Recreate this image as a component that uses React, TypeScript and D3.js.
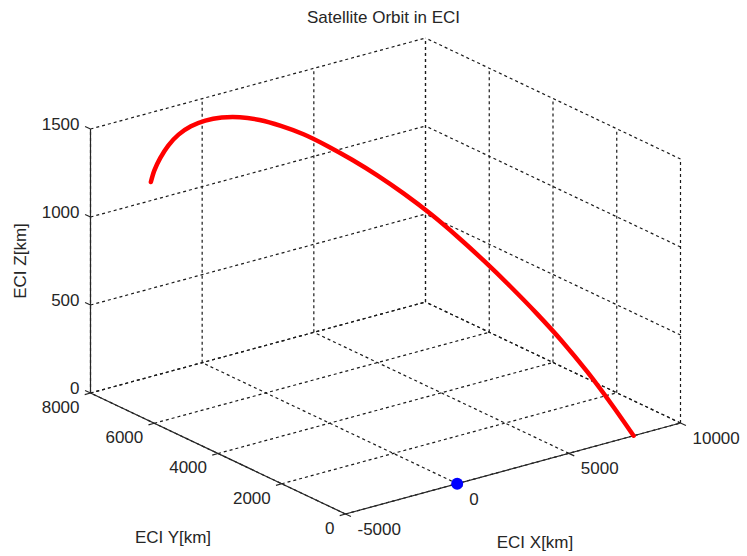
import React from "react";
import * as d3 from "d3";

// ---- data ----
const orbitX = [-3950, -3339, -2702, -2045, -1372, -689, 0, 689, 1372, 2045, 2702, 3339, 3950, 4531, 5078, 5586, 6052, 6471, 6842, 7160, 7424, 7631, 7780, 7870, 7900];
const orbitY = [6842, 7160, 7424, 7631, 7780, 7870, 7900, 7870, 7780, 7631, 7424, 7160, 6842, 6471, 6052, 5586, 5078, 4531, 3950, 3339, 2702, 2045, 1372, 689, 0];
const orbitZ = [1262, 1280, 1305, 1336, 1362, 1378, 1384, 1380, 1366, 1340, 1302, 1255, 1195, 1128, 1055, 975, 888, 792, 690, 585, 478, 368, 250, 125, 0];
const earthPoint = [0, 0, 0];

const xTicks = [-5000, 0, 5000, 10000];
const yTicks = [0, 2000, 4000, 6000, 8000];
const zTicks = [0, 500, 1000, 1500];
const xDomain = [-5000, 10000];
const yDomain = [0, 8000];
const zDomain = [0, 1500];

const title = "Satellite Orbit in ECI";
const xLabel = "ECI X[km]";
const yLabel = "ECI Y[km]";
const zLabel = "ECI Z[km]";

// ---- layout ----
const W = 747;
const H = 556;
const ORIGIN = [90.5, 393]; // pixel of (xmin, ymax, zmin)
const XV = [335, -91];
const YV = [255, 121];
const ZH = 264;
const FONT = "'Liberation Sans', Arial, Helvetica, sans-serif";
const TXT = "#262626";

export default function App() {
  const xs = d3.scaleLinear().domain(xDomain).range([0, 1]);
  const ys = d3.scaleLinear().domain([yDomain[1], yDomain[0]]).range([0, 1]);
  const zs = d3.scaleLinear().domain(zDomain).range([0, ZH]);
  const proj = (x: number, y: number, z: number): [number, number] => [
    ORIGIN[0] + xs(x) * XV[0] + ys(y) * YV[0],
    ORIGIN[1] + xs(x) * XV[1] + ys(y) * YV[1] - zs(z),
  ];
  const [x0, x1] = xDomain;
  const [y0, y1] = yDomain;
  const [z0, z1] = zDomain;

  const grid: [number, number, number, number, number, number][] = [];
  // floor
  xTicks.forEach((x) => grid.push([x, y0, z0, x, y1, z0]));
  yTicks.forEach((y) => grid.push([x0, y, z0, x1, y, z0]));
  // back wall y = ymax
  xTicks.forEach((x) => grid.push([x, y1, z0, x, y1, z1]));
  zTicks.forEach((z) => grid.push([x0, y1, z, x1, y1, z]));
  // back wall x = xmax
  yTicks.forEach((y) => grid.push([x1, y, z0, x1, y, z1]));
  zTicks.forEach((z) => grid.push([x1, y0, z, x1, y1, z]));

  const pts = orbitX.map((x, i) => proj(x, orbitY[i], orbitZ[i]));
  const line = d3.line().curve(d3.curveCatmullRom)(pts as [number, number][]) || "";

  const norm = (v: number[]) => {
    const l = Math.hypot(v[0], v[1]);
    return [v[0] / l, v[1] / l];
  };
  const yDir = norm(YV);
  const xDir = norm(XV);
  const TL = 6;

  const seg = (a: [number, number], b: [number, number]) => ({ x1: a[0], y1: a[1], x2: b[0], y2: b[1] });
  const ep = proj(earthPoint[0], earthPoint[1], earthPoint[2]);

  return (
    <svg width={W} height={H} style={{ position: "absolute", left: 0, top: 0, background: "#fff" }} fontFamily={FONT}>
      <rect width={W} height={H} fill="#fff" />
      <g stroke="#1a1a1a" strokeWidth={1.2} strokeDasharray="3,3" fill="none">
        {grid.map((g, i) => (
          <line key={i} {...seg(proj(g[0], g[1], g[2]), proj(g[3], g[4], g[5]))} />
        ))}
      </g>
      <g stroke={TXT} strokeWidth={1.2}>
        <line {...seg(proj(x0, y1, z0), proj(x0, y1, z1))} />
        <line {...seg(proj(x0, y1, z0), proj(x0, y0, z0))} />
        <line {...seg(proj(x0, y0, z0), proj(x1, y0, z0))} />
        {zTicks.map((z) => {
          const p = proj(x0, y1, z);
          return <line key={"zt" + z} x1={p[0]} y1={p[1]} x2={p[0] - yDir[0] * TL} y2={p[1] - yDir[1] * TL} />;
        })}
        {yTicks.map((y) => {
          const p = proj(x0, y, z0);
          return <line key={"yt" + y} x1={p[0]} y1={p[1]} x2={p[0] - xDir[0] * TL} y2={p[1] - xDir[1] * TL} />;
        })}
        {xTicks.map((x) => {
          const p = proj(x, y0, z0);
          return <line key={"xt" + x} x1={p[0]} y1={p[1]} x2={p[0] + yDir[0] * TL} y2={p[1] + yDir[1] * TL} />;
        })}
      </g>
      <path d={line} fill="none" stroke="#ff0000" strokeWidth={4.5} strokeLinecap="round" strokeLinejoin="round" />
      <circle cx={ep[0]} cy={ep[1]} r={6} fill="#0000ff" />
      <g fill={TXT} fontSize={17}>
        {zTicks.map((z) => {
          const p = proj(x0, y1, z);
          return (
            <text key={"zl" + z} x={p[0] - 11} y={p[1] - 5} dy="0.35em" textAnchor="end">
              {z}
            </text>
          );
        })}
        {yTicks.map((y) => {
          const p = proj(x0, y, z0);
          return (
            <text key={"yl" + y} x={p[0] - 11} y={p[1] + 14} dy="0.35em" textAnchor="end">
              {y}
            </text>
          );
        })}
        {xTicks.map((x) => {
          const p = proj(x, y0, z0);
          return (
            <text key={"xl" + x} x={p[0] + 12} y={p[1] + 15} dy="0.35em" textAnchor="start">
              {x}
            </text>
          );
        })}
        <text x={383.5} y={17} dy="0.35em" textAnchor="middle">{title}</text>
        {(() => {
          const m = proj(x0, y1, (z0 + z1) / 2);
          return (
            <text transform={`translate(20,${m[1]}) rotate(-90)`} dy="0.35em" textAnchor="middle">
              {zLabel}
            </text>
          );
        })()}
        {(() => {
          const m = proj(x0, (y0 + y1) / 2, z0);
          return (
            <text x={m[0] - 45} y={m[1] + 84} dy="0.35em" textAnchor="middle">
              {yLabel}
            </text>
          );
        })()}
        {(() => {
          const m = proj((x0 + x1) / 2, y0, z0);
          return (
            <text x={m[0] + 22} y={m[1] + 74} dy="0.35em" textAnchor="middle">
              {xLabel}
            </text>
          );
        })()}
      </g>
    </svg>
  );
}
